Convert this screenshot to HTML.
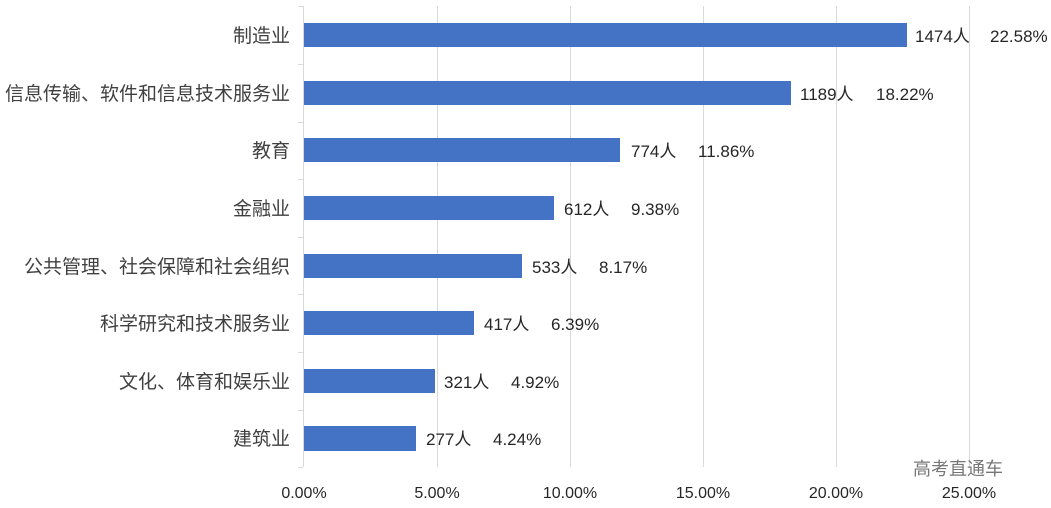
<!DOCTYPE html>
<html><head><meta charset="utf-8"><style>html,body{margin:0;padding:0;background:#fff;}svg{display:block;}</style></head><body>
<svg width="1051" height="508" xmlns="http://www.w3.org/2000/svg" font-family="Liberation Sans, Noto Sans CJK SC, sans-serif">
<g stroke="#d9d9d9" stroke-width="1">
<line x1="437.5" y1="6" x2="437.5" y2="467"/>
<line x1="570.5" y1="6" x2="570.5" y2="467"/>
<line x1="703.5" y1="6" x2="703.5" y2="467"/>
<line x1="836.5" y1="6" x2="836.5" y2="467"/>
<line x1="969.5" y1="6" x2="969.5" y2="467"/>
<line x1="303.5" y1="6" x2="303.5" y2="467"/>
<line x1="298" y1="6.5" x2="303" y2="6.5"/><line x1="298" y1="64.5" x2="303" y2="64.5"/><line x1="298" y1="122.5" x2="303" y2="122.5"/><line x1="298" y1="179.5" x2="303" y2="179.5"/><line x1="298" y1="237.5" x2="303" y2="237.5"/><line x1="298" y1="294.5" x2="303" y2="294.5"/><line x1="298" y1="352.5" x2="303" y2="352.5"/><line x1="298" y1="410.5" x2="303" y2="410.5"/><line x1="298" y1="467.5" x2="303" y2="467.5"/>
</g>
<g fill="#4472c4">
<rect x="304" y="23" width="603" height="24"/>
<rect x="304" y="81" width="487" height="24"/>
<rect x="304" y="138" width="316" height="24"/>
<rect x="304" y="196" width="250" height="24"/>
<rect x="304" y="254" width="218" height="24"/>
<rect x="304" y="311" width="170" height="24"/>
<rect x="304" y="369" width="131" height="24"/>
<rect x="304" y="426" width="112" height="25"/>
</g>
<g font-size="19" fill="#404040" text-anchor="end">
<text x="290" y="42">制造业</text>
<text x="290" y="100">信息传输、软件和信息技术服务业</text>
<text x="290" y="157">教育</text>
<text x="290" y="215">金融业</text>
<text x="290" y="273">公共管理、社会保障和社会组织</text>
<text x="290" y="330">科学研究和技术服务业</text>
<text x="290" y="388">文化、体育和娱乐业</text>
<text x="290" y="445">建筑业</text>
</g>
<g font-size="17" fill="#262626">
<text x="915" y="42">1474人</text><text x="990" y="42">22.58%</text>
<text x="800" y="100">1189人</text><text x="876" y="100">18.22%</text>
<text x="631" y="157">774人</text><text x="698" y="157">11.86%</text>
<text x="564" y="215">612人</text><text x="631" y="215">9.38%</text>
<text x="532" y="273">533人</text><text x="599" y="273">8.17%</text>
<text x="484" y="330">417人</text><text x="551" y="330">6.39%</text>
<text x="444" y="388">321人</text><text x="511" y="388">4.92%</text>
<text x="426" y="445">277人</text><text x="493" y="445">4.24%</text>
</g>
<g font-size="16" fill="#262626" text-anchor="middle">
<text x="304" y="498">0.00%</text>
<text x="437" y="498">5.00%</text>
<text x="570" y="498">10.00%</text>
<text x="703" y="498">15.00%</text>
<text x="836" y="498">20.00%</text>
<text x="969" y="498">25.00%</text>
</g>
<text x="913" y="475" font-size="18" fill="#777">高考直通车</text>
</svg>
</body></html>
